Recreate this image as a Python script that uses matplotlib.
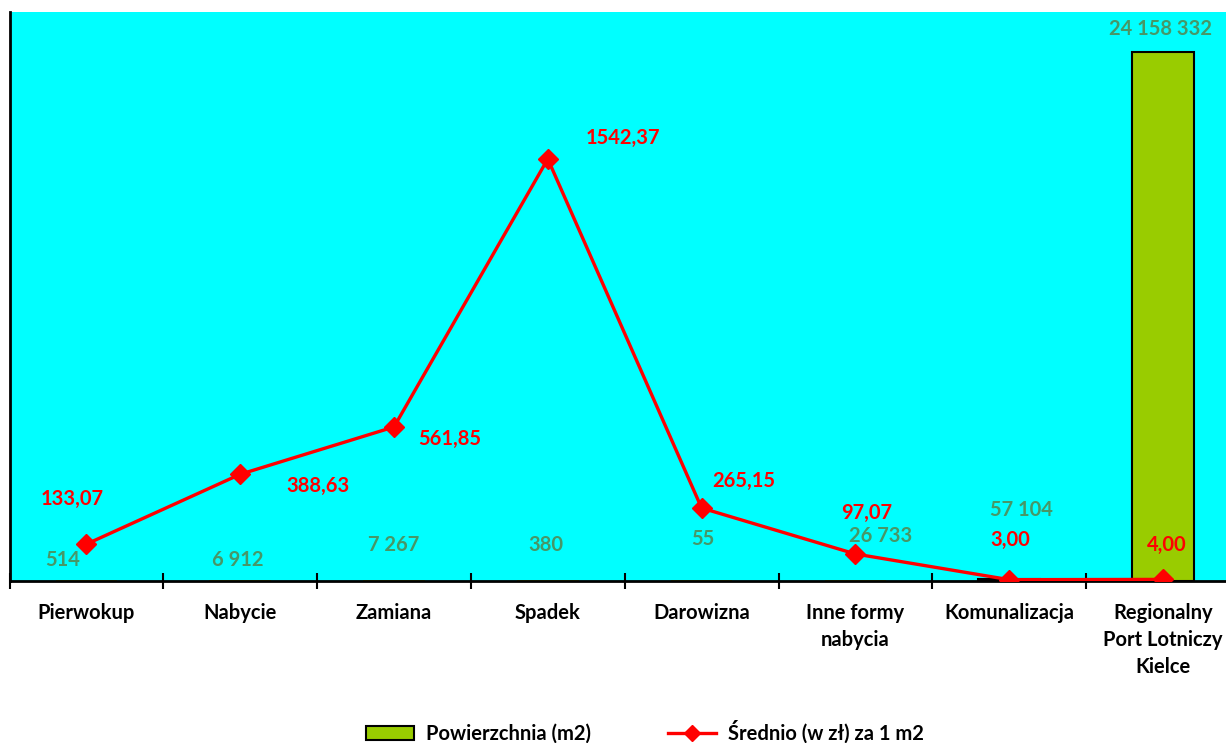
import matplotlib
matplotlib.use("Agg")
import matplotlib.pyplot as plt
from matplotlib.lines import Line2D
from matplotlib.patches import Patch

plt.rcParams['font.family'] = ['Lato', 'DejaVu Sans']

categories = ["Pierwokup", "Nabycie", "Zamiana", "Spadek", "Darowizna",
              "Inne formy\nnabycia", "Komunalizacja",
              "Regionalny\nPort Lotniczy\nKielce"]
area_m2 = [514, 6912, 7267, 380, 55, 26733, 57104, 24158332]
price_per_m2 = [133.07, 388.63, 561.85, 1542.37, 265.15, 97.07, 3.00, 4.00]
series_names = ["Powierzchnia (m2)", "Średnio (w zł) za 1 m2"]

# label offsets in pixels (dx, dy) relative to data point
area_label_off = [(-24, 20), (-2, 20), (0, 35), (-2, 35), (1, 41), (25, 44), (12, 69), (-3, 23)]
price_label_off = [(-14, 45), (78, -12), (56, -12), (75, 21), (42, 27), (11, 41), (1, 40), (4, 34)]

CYAN = "#00FFFF"
BAR_GREEN = "#99CC00"
LABEL_GREEN = "#479767"
RED = "#FF0000"
FS = 14.5

W, H = 1226, 743
fig = plt.figure(figsize=(W / 100, H / 100), dpi=100)
left, right, top, bottom = 9.5, 9.5 + 8 * 153.8, 12, 580.5
ax = fig.add_axes([left / W, (H - bottom) / H, (right - left) / W, (bottom - top) / H])
ax.set_facecolor(CYAN)

AREA_MAX = 26_000_000
plot_h_px = bottom - top
x = list(range(len(categories)))
# bars thinner than one pixel are not rendered with an outline (as in the source)
edge_w = [1.5 if v / AREA_MAX * plot_h_px >= 1 else 0 for v in area_m2]
ax.bar(x, area_m2, width=0.4, color=BAR_GREEN, edgecolor="black", linewidth=edge_w, zorder=2)
ax.set_ylim(0, AREA_MAX)
ax.set_xlim(-0.5, len(categories) - 0.5)

for spine in ("top", "right"):
    ax.spines[spine].set_visible(False)
ax.spines["left"].set_linewidth(2)
ax.spines["bottom"].set_linewidth(2)
ax.set_yticks([])

ax.set_xticks(x)
ax.set_xticklabels(categories, fontsize=FS, fontweight="bold", linespacing=1.45)
ax.tick_params(axis="x", which="major", length=0, pad=16)
ax.set_xticks([i - 0.5 for i in range(len(categories) + 1)], minor=True)
ax.tick_params(axis="x", which="minor", direction="inout", length=11, width=1.5)

def fmt_space(v):
    return f"{v:,}".replace(",", " ")

for xi, v, (dx, dy) in zip(x, area_m2, area_label_off):
    ax.annotate(fmt_space(v), (xi, v), xytext=(dx, dy), textcoords="offset pixels",
                ha="center", va="center", color=LABEL_GREEN, fontsize=FS,
                fontweight="bold", zorder=5)

ax2 = ax.twinx()
ax2.set_ylim(0, 2080)
ax2.patch.set_visible(False)
for s in ax2.spines.values():
    s.set_visible(False)
ax2.set_yticks([])
ax2.plot(x, price_per_m2, color=RED, linewidth=2.4, marker="D", markersize=10,
         markeredgecolor=RED, markerfacecolor=RED, zorder=3)

for xi, v, (dx, dy) in zip(x, price_per_m2, price_label_off):
    ax2.annotate(f"{v:.2f}".replace(".", ","), (xi, v), xytext=(dx, dy),
                 textcoords="offset pixels", ha="center", va="center", color=RED,
                 fontsize=FS, fontweight="bold", zorder=5)

handles = [Patch(facecolor=BAR_GREEN, edgecolor="black", linewidth=1.5),
           Line2D([0], [0], color=RED, linewidth=2.4, marker="D", markersize=8)]
leg = fig.legend(handles, series_names, loc="center", bbox_to_anchor=(645 / W, (H - 732) / H),
                 ncol=2, frameon=False, fontsize=FS,
                 handlelength=2.4, handleheight=0.7, handletextpad=0.6, columnspacing=3.8,
                 borderpad=0.1)
for t in leg.get_texts():
    t.set_fontweight("bold")

fig.savefig("out.png", dpi=100)
